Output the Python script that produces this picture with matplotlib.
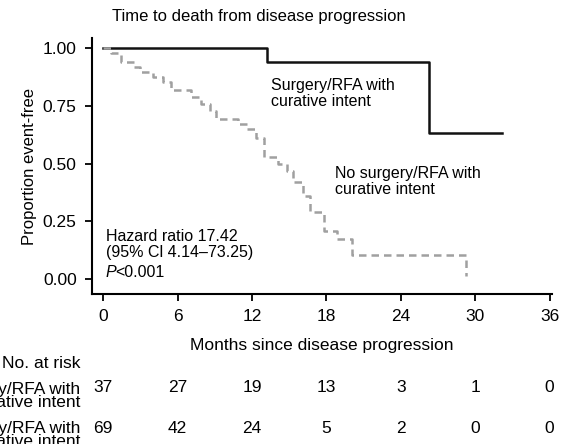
import matplotlib
matplotlib.use("Agg")
import matplotlib.pyplot as plt
plt.rcParams['font.family'] = ['Liberation Sans', 'DejaVu Sans']

surg_t = [0, 13.2, 26.3, 32.2]
surg_s = [1.0, 0.943, 0.633, 0.633]
nos_t = [0, 0.6, 1.4, 2.5, 3.0, 4.0, 4.8, 5.5, 7.1, 7.9, 8.6, 9.1, 10.9, 11.6, 12.3, 13.0, 14.1, 14.8, 15.3, 16.1, 16.7, 17.8, 18.9, 20.1, 29.3]
nos_s = [1.0, 0.978, 0.942, 0.92, 0.898, 0.876, 0.855, 0.82, 0.79, 0.76, 0.73, 0.694, 0.67, 0.65, 0.61, 0.53, 0.50, 0.47, 0.42, 0.36, 0.29, 0.21, 0.175, 0.105, 0.015]
risk_times = [0, 6, 12, 18, 24, 30, 36]
risk_surg = [37, 27, 19, 13, 3, 1, 0]
risk_nos = [69, 42, 24, 5, 2, 0, 0]

W, H = 561, 444
fig = plt.figure(figsize=(W/100, H/100), dpi=100)
ax = fig.add_axes([92/W, 1-294/H, (552-92)/W, (294-38)/H])
ax.step(surg_t, surg_s, where='post', color='#111111', lw=1.8)
ax.step(nos_t, nos_s, where='post', color='#a0a0a0', lw=1.8, ls=(0, (3, 2)))
ax.set_xlim(-0.9, 36.2)
ax.set_ylim(-0.065, 1.045)
ax.set_xticks(risk_times)
ax.set_yticks([0, 0.25, 0.5, 0.75, 1.0])
ax.set_yticklabels(['0.00', '0.25', '0.50', '0.75', '1.00'])
for s in ['top', 'right']:
    ax.spines[s].set_visible(False)
for s in ['left', 'bottom']:
    ax.spines[s].set_linewidth(1.5)
ax.tick_params(labelsize=12.5, width=1.3, length=5, pad=6)
ax.set_ylabel('Proportion event-free', fontsize=12)
ax.set_xlabel('Months since disease progression', fontsize=12.5, labelpad=10)
fig.text(112/W, 1-16/H, 'Time to death from disease progression', fontsize=12, va='center')
ax.text(13.5, 0.87, 'Surgery/RFA with\ncurative intent', fontsize=11.5, va='top', linespacing=1.05)
ax.text(18.7, 0.49, 'No surgery/RFA with\ncurative intent', fontsize=11.5, va='top', linespacing=1.05)
ax.text(0.2, 0.215, 'Hazard ratio 17.42\n(95% Cl 4.14\u201373.25)', fontsize=11.5, va='top', linespacing=1.05)
ax.text(0.2, 0.028, 'P', fontsize=11.5, va='center', style='italic')
ax.text(0.95, 0.028, '<0.001', fontsize=11.5, va='center')

fs = 12.5
fig.text(80/W, 1-363/H, 'No. at risk', fontsize=fs, ha='right', va='center')
fig.text(80/W, 1-396/H, 'Surgery/RFA with\ncurative intent', fontsize=fs, ha='right', va='center', linespacing=0.9)
fig.text(80/W, 1-435/H, 'No surgery/RFA with\ncurative intent', fontsize=fs, ha='right', va='center', linespacing=0.9)
for t, a, b in zip(risk_times, risk_surg, risk_nos):
    xf = ax.transData.transform((t, 0))[0] / W
    fig.text(xf, 1-388/H, str(a), fontsize=fs, ha='center', va='center')
    fig.text(xf, 1-428/H, str(b), fontsize=fs, ha='center', va='center')
fig.savefig('out.png', dpi=100)
